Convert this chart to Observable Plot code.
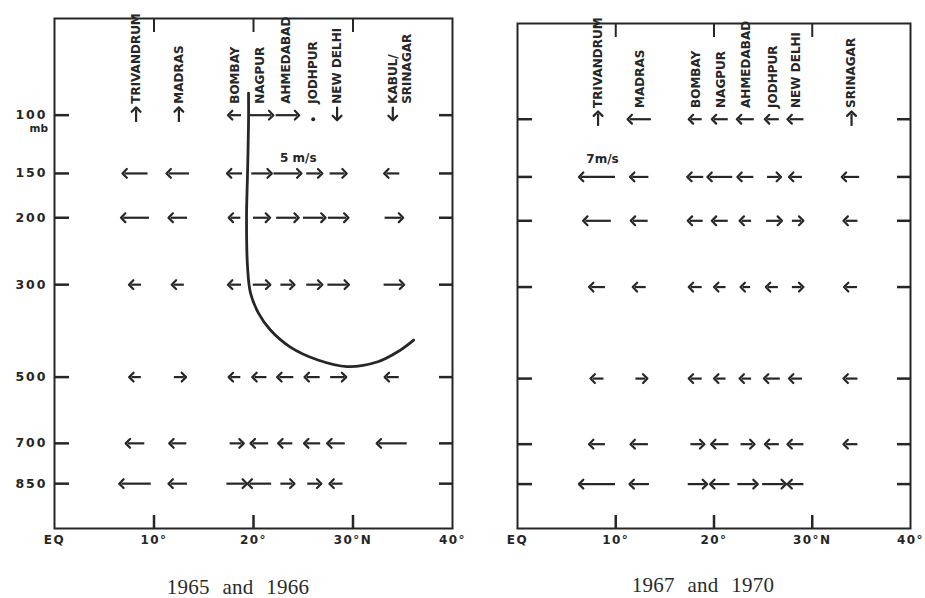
<!DOCTYPE html>
<html><head><meta charset="utf-8">
<script src="https://cdn.jsdelivr.net/npm/d3@7"></script>
<script src="https://cdn.jsdelivr.net/npm/@observablehq/plot@0.6"></script>
<style>
html,body{margin:0;padding:0;background:#fff;}
#wrap{position:relative;width:925px;height:598px;overflow:hidden;background:#fff;}
.panel{position:absolute;top:0;}
.caption{position:absolute;font-family:"Liberation Serif","DejaVu Serif",serif;font-size:21px;line-height:20px;color:#2a2a2a;word-spacing:7px;letter-spacing:0.3px;white-space:nowrap;transform:translateX(-50%);}
g[aria-label="y-axis tick label"] text{letter-spacing:2px;}
g[aria-label="x-axis tick label"] text{letter-spacing:1.5px;}
</style></head><body>
<div id="wrap">
  <div id="left" class="panel" style="left:0px"></div>
  <div id="right" class="panel" style="left:465px"></div>
  <div class="caption" style="left:238px;top:577px">1965 and 1966</div>
  <div class="caption" style="left:703px;top:575px">1967 and 1970</div>
</div>
<script>
// ---------- data ----------
const levels = [100, 150, 200, 300, 500, 700, 850];           // mb
const latitudes = [8.2, 12.5, 18.2, 20.7, 23.3, 26.0, 28.4, 34.0]; // °N
const stationsLeft = ["TRIVANDRUM", "MADRAS", "BOMBAY", "NAGPUR", "AHMEDABAD", "JODHPUR", "NEW DELHI", "KABUL/\nSRINAGAR"];
const stationsRight = ["TRIVANDRUM", "MADRAS", "BOMBAY", "NAGPUR", "AHMEDABAD", "JODHPUR", "NEW DELHI", "SRINAGAR"];
const xTicks = [0, 10, 20, 30, 40];
const xTickLabels = ["EQ", "10°", "20°", "30°N", "40°"];
const xInnerTicks = [10, 20, 30];

// meridional wind (m/s, + = northward), rows = levels, columns = stations
const wind1965 = [
  [null, null, -2.2, 4.3, 4.3, null, null, null],
  [-4.6, -4.1, -2.6, 3.7, 5.2, 2.8, 3.0, -2.6],
  [-5.2, -3.3, -1.9, 3.0, 4.1, 4.1, 3.7, 3.3],
  [-2.0, -2.0, -2.2, 3.1, 2.4, 2.8, 3.9, 3.7],
  [-1.9, 2.0, -1.9, -2.4, -2.8, -2.6, 2.8, -2.4],
  [-3.3, -3.0, 2.4, -3.1, -2.4, -2.8, -3.1, -5.6],
  [-5.9, -3.3, 3.7, -4.3, 2.4, 2.4, -2.2, null]
];
const wind1967 = [
  [null, -4.3, -2.2, -2.8, -3.0, -2.4, -2.8, null],
  [-6.9, -3.3, -2.8, -4.6, -2.8, 2.4, -2.2, -3.1],
  [-5.2, -3.0, -2.6, -2.8, -1.9, 2.8, 1.9, -2.4],
  [-2.8, -2.2, -2.2, -1.9, -1.5, -2.0, 1.9, -2.2],
  [-2.2, 2.0, -2.2, -1.9, -1.9, -2.8, -2.2, -2.4],
  [-2.8, -3.1, 2.4, -3.1, 2.4, -2.4, -2.8, -2.4],
  [-6.9, -3.5, 3.5, -3.5, 3.7, 4.4, -2.8, null]
];
// vertical indicators at 100 mb
const vertical1965 = ["up", "up", null, null, null, "calm", "down", "down"];
const vertical1967 = ["up", null, null, null, null, null, null, "up"];

// zero line (1965-66)
const curveLat = [19.5, 19.5, 19.4, 19.3, 19.4, 19.7, 20.5, 21.7, 23.7, 26.4, 29.4, 32.5, 34.5, 36.1];
const curveP   = [85, 106, 150, 200, 270, 315, 353, 388, 426, 456, 473, 461, 437, 410];

const speedLabel1965 = {t: "5 m/s", lat: 24.5, p: 135};
const speedLabel1967 = {t: "7m/s", lat: 8.65, p: 133};

// ---------- drawing ----------
const ink = "#262626";
const degPerMs = 0.5;

function buildArrows(wind) {
  const out = [];
  levels.forEach((p, i) => wind[i].forEach((v, j) => {
    if (v !== null) out.push({p, lat: latitudes[j], v});
  }));
  return out;
}

function makePanel(cfg) {
  const {width, height, ml, mr, mt, mb, stations, wind, vertical, showY, curve, speed, multiDx} = cfg;
  const plotW = width - ml - mr, plotH = height - mt - mb;
  const arrows = buildArrows(wind);
  const vert = vertical.map((k, j) => ({k, lat: latitudes[j]})).filter(d => d.k);
  const labels = stations.map((s, j) => ({s, lat: latitudes[j]}));
  const single = labels.filter(d => !d.s.includes("\n"));
  const multi = labels.filter(d => d.s.includes("\n"));

  const marks = [
    Plot.frame({stroke: ink, strokeWidth: 2}),
    Plot.tickY(levels, {y: d => d, insetRight: plotW - 15, stroke: ink, strokeWidth: 2.5}),
    Plot.tickY(levels, {y: d => d, insetLeft: plotW - 13, stroke: ink, strokeWidth: 2.5}),
    Plot.tickX(xInnerTicks, {x: d => d, insetTop: plotH - 13, stroke: ink, strokeWidth: 2.5}),
    Plot.tickX(xInnerTicks, {x: d => d, insetBottom: plotH - 14, stroke: ink, strokeWidth: 2}),
    Plot.axisX(xTicks, {tickSize: 0, tickPadding: 7, label: null, fontSize: 12, fontWeight: "bold",
      tickFormat: d => xTickLabels[xTicks.indexOf(d)]}),
    Plot.link(arrows, {
      x1: d => d.lat - d.v * degPerMs / 2, x2: d => d.lat + d.v * degPerMs / 2,
      y1: "p", y2: "p", stroke: ink, strokeWidth: 2.2, markerEnd: "arrow"
    }),
    Plot.link(vert.filter(d => d.k === "up"), {x1: "lat", x2: "lat", y1: () => levels[0] * 1.05, y2: () => levels[0] * 0.96,
      stroke: ink, strokeWidth: 2.2, markerEnd: "arrow"}),
    Plot.link(vert.filter(d => d.k === "down"), {x1: "lat", x2: "lat", y1: () => levels[0] * 0.94, y2: () => levels[0] * 1.02,
      stroke: ink, strokeWidth: 2.2, markerEnd: "arrow"}),
    Plot.dot(vert.filter(d => d.k === "calm"), {x: "lat", y: () => levels[0] * 1.03, r: 2, fill: ink}),
    Plot.text(single, {x: "lat", y: () => 92, text: "s", rotate: -90, textAnchor: "start",
      fontSize: 12, fontWeight: "bold", fill: ink}),
    Plot.text(multi, {x: "lat", y: () => 92, text: "s", rotate: -90, textAnchor: "start", dx: multiDx,
      fontSize: 12, fontWeight: "bold", fill: ink, lineHeight: 1.15}),
    Plot.text([speed], {x: "lat", y: "p", text: "t", fontSize: 12, fontWeight: "bold", fill: ink})
  ];
  if (curve) {
    marks.push(Plot.line(curve, {x: "lat", y: "p", curve: "catmull-rom", stroke: ink, strokeWidth: 2.8}));
  }
  if (showY) {
    marks.push(Plot.axisY(levels, {tickSize: 0, tickPadding: 7, label: null, fontSize: 12.5, fontWeight: "bold"}));
    marks.push(Plot.text(["mb"], {frameAnchor: "left", y: () => levels[0], text: d => d, dx: -25, dy: 13,
      fontSize: 10.5, fontWeight: "bold", fill: ink}));
  }
  return Plot.plot({
    width, height, marginLeft: ml, marginRight: mr, marginTop: mt, marginBottom: mb,
    x: {domain: [0, 40]},
    y: {type: "pow", exponent: 0.2, domain: [47, 1046], reverse: true, axis: showY ? undefined : null},
    style: {fontFamily: "DejaVu Sans, sans-serif", color: ink, background: "transparent", overflow: "visible"},
    marks
  });
}

const curve1965 = curveLat.map((lat, i) => ({lat, p: curveP[i]}));

document.getElementById("left").appendChild(makePanel({
  width: 465, height: 560, ml: 54, mr: 13, mt: 18, mb: 32,
  stations: stationsLeft, wind: wind1965, vertical: vertical1965, showY: true,
  curve: curve1965, speed: speedLabel1965, multiDx: 7
}));
document.getElementById("right").appendChild(makePanel({
  width: 460, height: 560, ml: 52, mr: 15, mt: 23, mb: 32,
  stations: stationsRight, wind: wind1967, vertical: vertical1967, showY: false,
  curve: null, speed: speedLabel1967, multiDx: 0
}));
</script>
</body></html>
